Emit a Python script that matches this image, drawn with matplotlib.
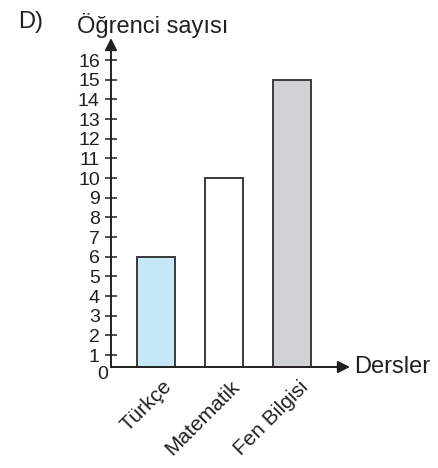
import numpy as np
import matplotlib
matplotlib.use("Agg")
import matplotlib.pyplot as plt
from matplotlib.transforms import ScaledTranslation

# Datos del gráfico
dersler = ["Türkçe", "Matematik", "Fen Bilgisi"]
ogrenci_sayisi = [6, 10, 15]
renkler = ["#c6e7f7", "#ffffff", "#d1d2d4"]
y_ticks = list(range(1, 17))

plt.rcParams['font.family'] = ['Liberation Sans', 'DejaVu Sans']
koyu = "#231f20"

fig = plt.figure(figsize=(4.39, 4.68), dpi=100)
ax = fig.add_axes([0.2528, 0.2158, 0.5444, 0.7030])

x = np.arange(len(dersler))
ax.bar(x, ogrenci_sayisi, width=0.55, color=renkler, edgecolor="#3a3a3c", linewidth=1.4)

ax.set_xlim(-0.662, 2.853)
ax.set_ylim(0.39, 17.12)

# Eksenler: oklar
for s in ax.spines.values():
    s.set_visible(False)
ok = dict(arrowstyle='-|>', color=koyu, lw=1.4, mutation_scale=18, shrinkA=0, shrinkB=0)
ax.annotate('', xy=(0, 1), xytext=(0, 0), xycoords='axes fraction', arrowprops=ok)
ax.annotate('', xy=(1, 0), xytext=(0, 0), xycoords='axes fraction', arrowprops=ok)

# Y ekseni çentikleri
ax.set_yticks(y_ticks)
ax.set_yticklabels([str(t) for t in y_ticks])
ax.tick_params(axis='y', direction='inout', length=8, width=1.1, color=koyu,
               labelsize=14, labelcolor=koyu, pad=4)
ax.text(-0.012, 0, "0", transform=ax.get_yaxis_transform(), ha='right', va='center',
        fontsize=14, color=koyu)

# X ekseni etiketleri
ax.set_xticks(x)
ax.set_xticklabels(dersler, rotation=45, ha='right', va='center', rotation_mode='anchor')
ax.tick_params(axis='x', length=0, labelsize=15, labelcolor=koyu, pad=12)
for lab in ax.get_xticklabels():
    lab.set_transform(lab.get_transform() + ScaledTranslation(0.13, 0, fig.dpi_scale_trans))

# Başlıklar
fig.text(153 / 439, 1 - 25 / 468, "Öğrenci sayısı", ha='center', va='center', fontsize=17, color=koyu)
fig.text(18 / 439, 1 - 22 / 468, "D)", ha='left', va='center', fontsize=17, color=koyu)
fig.text(354 / 439, 1 - 367 / 468, "Dersler", ha='left', va='center', fontsize=17, color=koyu)

fig.savefig("out.png", dpi=100)
